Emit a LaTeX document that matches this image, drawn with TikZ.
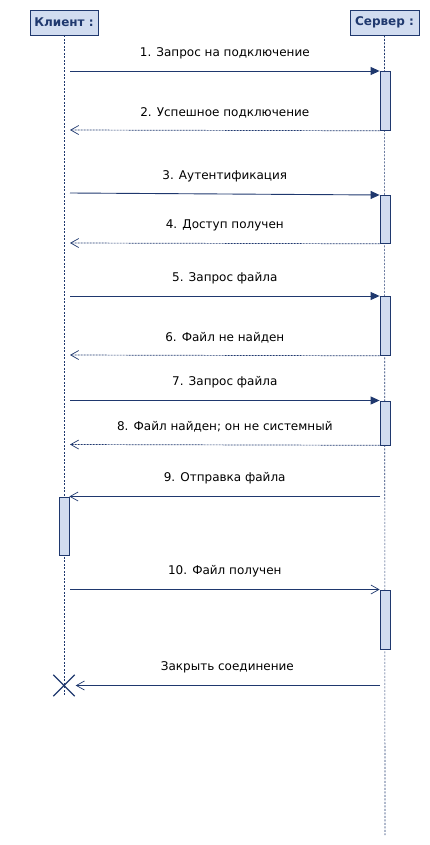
\documentclass[tikz,border=0pt]{standalone}
\usepackage{fontspec}
\setmainfont{DejaVu Sans}
\usetikzlibrary{arrows.meta,shapes.misc}
\definecolor{umlline}{RGB}{31,56,110}
\definecolor{umlfill}{RGB}{209,220,240}
\pgfdeclarelayer{nodelayer}
\pgfdeclarelayer{edgelayer}
\pgfsetlayers{edgelayer,nodelayer,main}
\tikzstyle{actor}=[fill=umlfill, draw=umlline, shape=rectangle, line width=0.8pt, minimum width=68pt, minimum height=25pt, inner sep=0pt, font=\fontsize{12}{14}\selectfont\bfseries, text=umlline]
\tikzstyle{activation}=[fill=umlfill, draw=umlline, shape=rectangle, line width=0.8pt, minimum width=10pt, inner sep=0pt, anchor=north]
\tikzstyle{lifeline}=[draw=umlline, line width=0.6pt, dash pattern=on 2pt off 1.5pt]
\tikzstyle{destroy}=[draw=umlline, shape=cross out, line width=1.4pt, minimum size=20pt, inner sep=0pt]
\tikzstyle{call}=[draw=umlline, line width=0.9pt, -{Triangle[length=9pt,width=8pt]}]
\tikzstyle{signal}=[draw=umlline, line width=0.9pt, -{Straight Barb[length=8pt,width=9pt,line width=0.7pt]}]
\tikzstyle{reply}=[draw=umlline, line width=0.7pt, dash pattern=on 2pt off 1pt, -{Straight Barb[length=8pt,width=9pt,line width=0.7pt]}]
\tikzstyle{label}=[above=12pt, inner sep=0pt, font=\fontsize{12}{14}\selectfont, text=black]

\begin{document}
\begin{tikzpicture}[x=1pt, y=-1pt]
    	\useasboundingbox (0,0) rectangle (430,845);
    	\begin{pgfonlayer}{nodelayer}
    		\node [style=actor] (client) at (64, 22.5) {Клиент :};
    		\node [style=actor, minimum width=69pt] (server) at (384.5, 22.5) {Сервер :};
    		\node [style=activation, minimum height=59pt] (a1) at (385, 71) {};
    		\node [style=activation, minimum height=48pt] (a2) at (385, 195) {};
    		\node [style=activation, minimum height=59pt] (a3) at (385, 296) {};
    		\node [style=activation, minimum height=44pt] (a4) at (385, 400.5) {};
    		\node [style=activation, minimum height=58.5pt] (c1) at (64, 496.5) {};
    		\node [style=activation, minimum height=59pt] (a5) at (385, 589.5) {};
    		\node [style=destroy] (end) at (64, 685.5) {};
    		\coordinate (send) at (385, 835);
    		\coordinate (m1) at (70, 71);
    		\coordinate (m2) at (70, 130);
    		\coordinate (m3) at (70, 193);
    		\coordinate (m4) at (70, 243);
    		\coordinate (m5) at (70, 296);
    		\coordinate (m6) at (70, 355);
    		\coordinate (m7) at (70, 400.5);
    		\coordinate (m8) at (70, 444.5);
    		\coordinate (s9) at (380, 496.5);
    		\coordinate (m10) at (70, 589.5);
    		\coordinate (s11) at (380, 685.5);
    	\end{pgfonlayer}
    	\begin{pgfonlayer}{edgelayer}
    		\draw [style=lifeline] (client) -- (end.south);
    		\draw [style=lifeline] (server) -- (send);
    		\draw [style=call] (m1) to node [style=label] {1. Запрос на подключение} (a1.north west);
    		\draw [style=reply] (a1.south west) to node [style=label] {2. Успешное подключение} (m2);
    		\draw [style=call] (m3) to node [style=label] {3. Аутентификация} (a2.north west);
    		\draw [style=reply] (a2.south west) to node [style=label] {4. Доступ получен} (m4);
    		\draw [style=call] (m5) to node [style=label] {5. Запрос файла} (a3.north west);
    		\draw [style=reply] (a3.south west) to node [style=label] {6. Файл не найден} (m6);
    		\draw [style=call] (m7) to node [style=label] {7. Запрос файла} (a4.north west);
    		\draw [style=reply] (a4.south west) to node [style=label] {8. Файл найден; он не системный} (m8);
    		\draw [style=signal] (s9) to node [style=label] {9. Отправка файла} (c1.north east);
    		\draw [style=signal] (m10) to node [style=label] {10. Файл получен} (a5.north west);
    		\draw [style=signal, shorten >=1pt] (s11) to node [style=label] {Закрыть соединение} (end.east);
    	\end{pgfonlayer}
    \end{tikzpicture}
\end{document}
